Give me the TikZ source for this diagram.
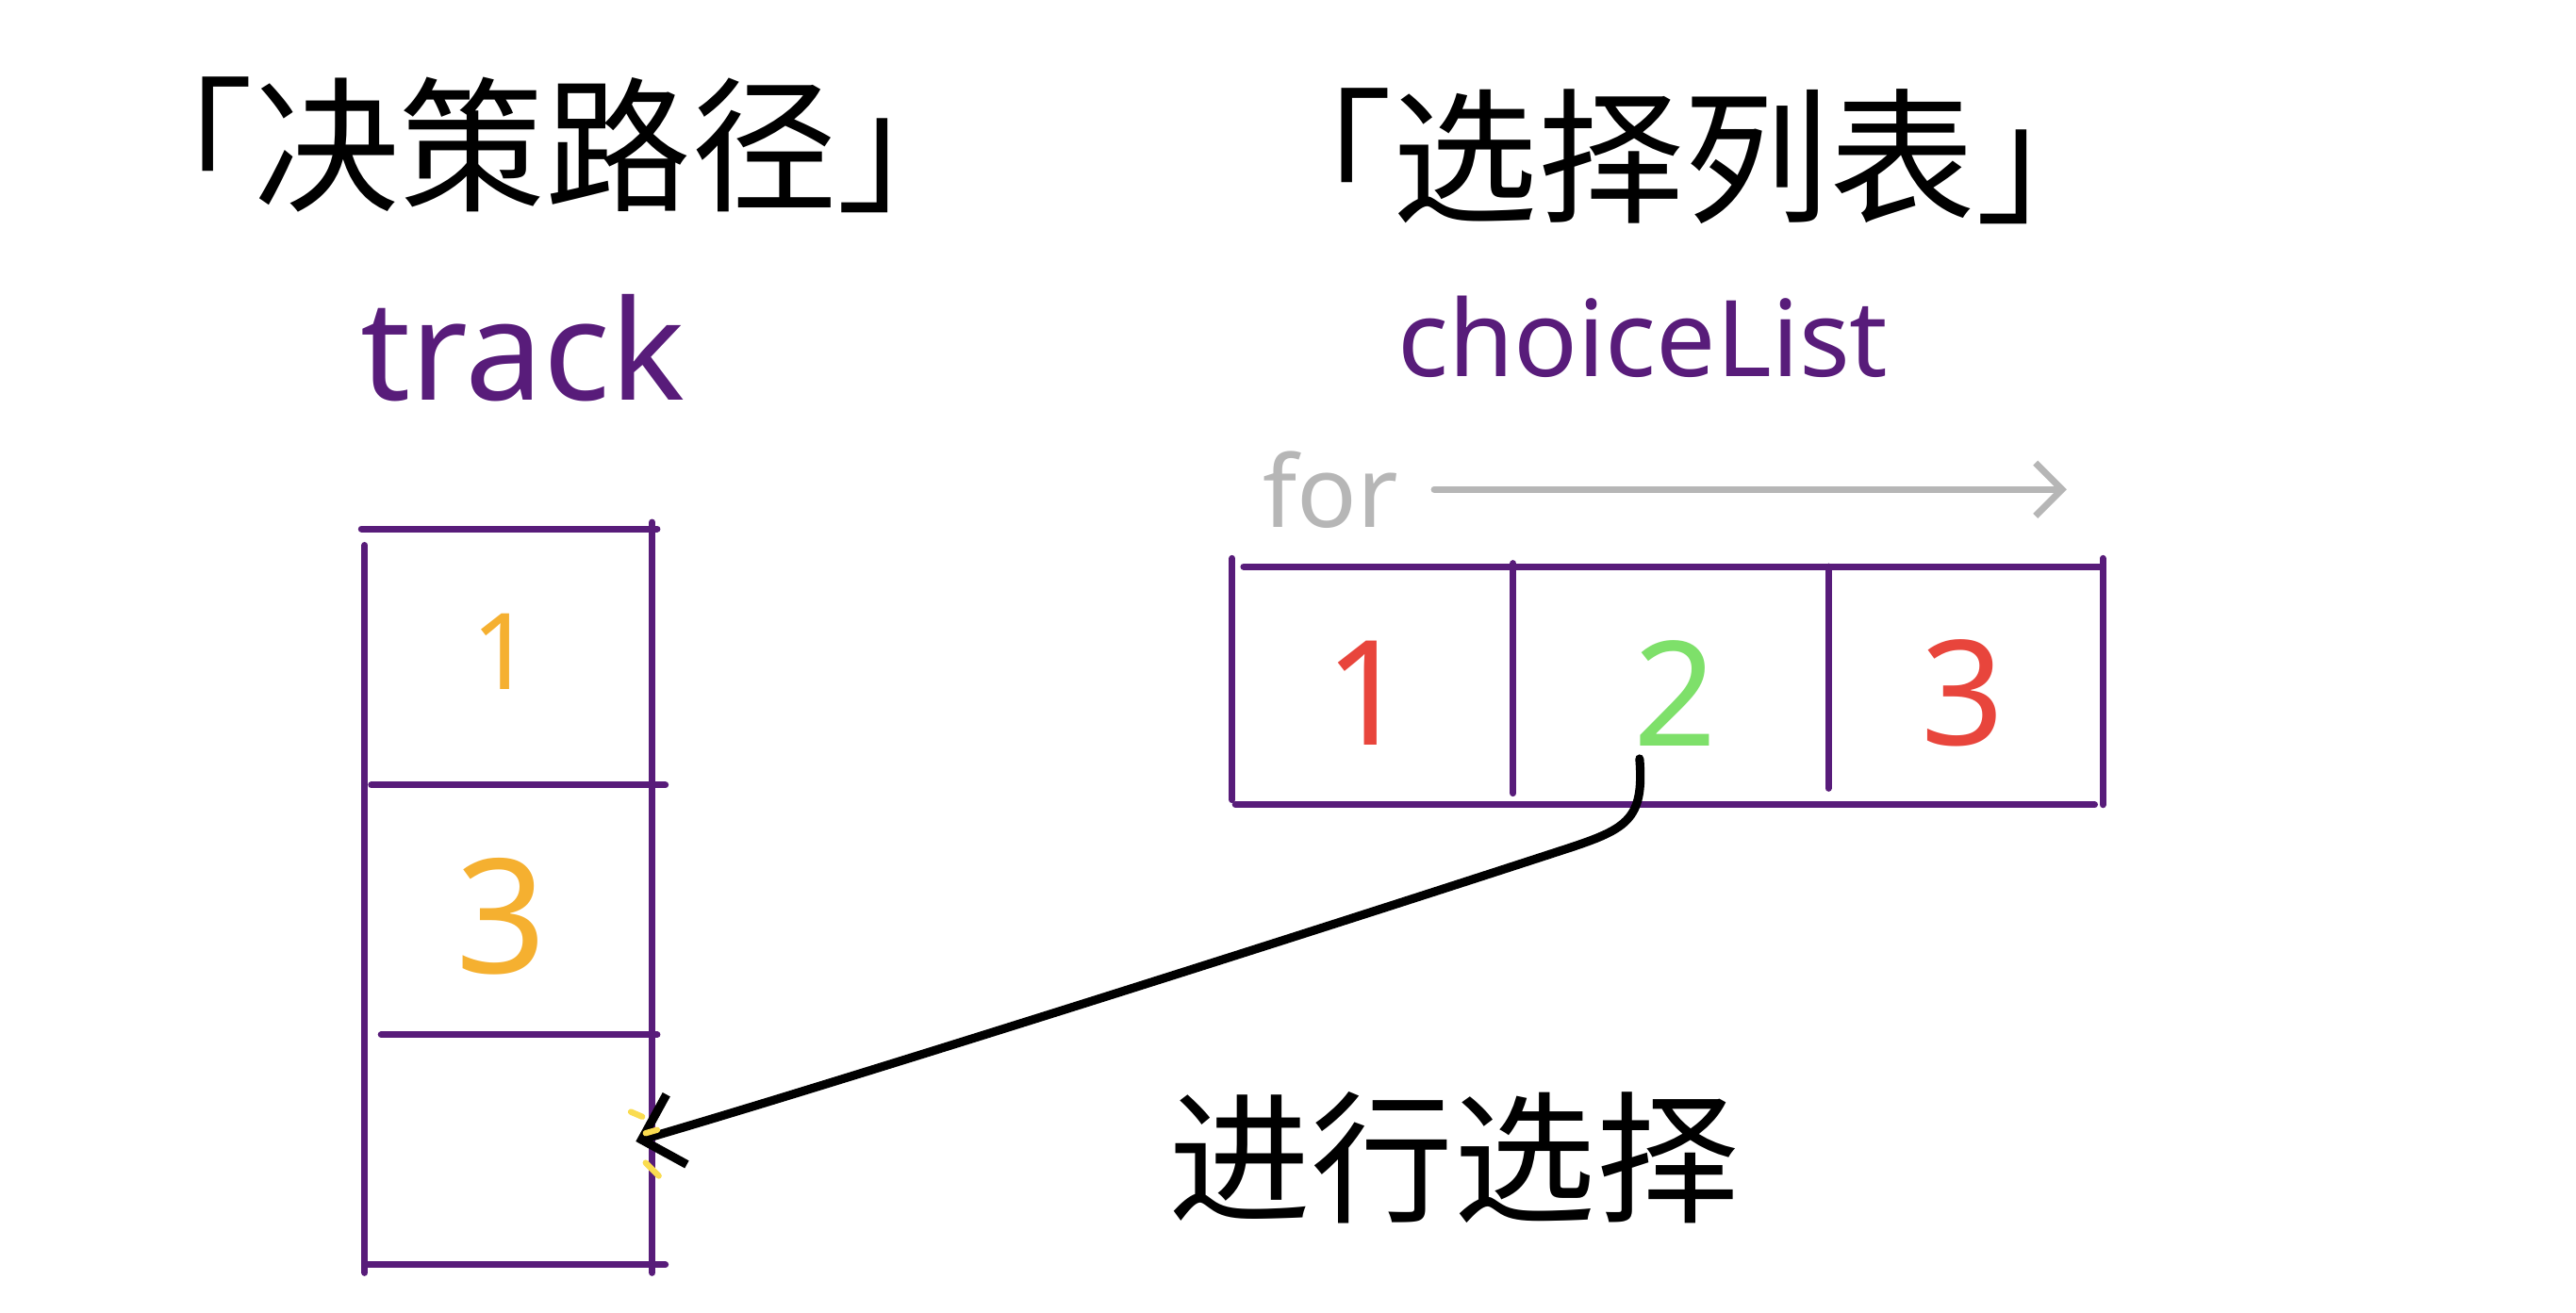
\documentclass[tikz,border=0pt]{standalone}
\usepackage{fontspec}
\setmainfont{Noto Sans}
\newfontfamily\cjk{Noto Sans CJK SC}
\usetikzlibrary{arrows.meta}
\definecolor{pur}{RGB}{88,28,122}
\definecolor{redd}{RGB}{232,69,60}
\definecolor{grn}{RGB}{126,224,106}
\definecolor{org}{RGB}{245,176,48}
\definecolor{gry}{RGB}{182,182,182}
\definecolor{yel}{RGB}{250,220,80}
\tikzset{
  grid/.style={draw=pur,line width=2pt,line cap=round},
  title/.style={font=\cjk\fontsize{44}{52}\selectfont,text=black,inner sep=0pt},
  label/.style={text=pur,inner sep=0pt},
  conn/.style={draw=black,line width=2.6pt,line cap=round,line join=round,-{Straight Barb[length=11pt,width=22pt,line width=2.6pt]}},
  forarrow/.style={draw=gry,line width=2pt,line cap=round,-{Straight Barb[length=8pt,width=16pt,line width=2pt]}},
  spark/.style={draw=yel,line width=1.8pt,line cap=round}
}
\begin{document}
\begin{tikzpicture}[x=0.017423cm,y=-0.017423cm]
\useasboundingbox[fill=white] (0,0) rectangle (1568,799);
% titles
\node[title] (t1) at (332,88) {「决策路径」};
\node[title] (t2) at (1025,95) {「选择列表」};
\node[label,font=\fontsize{42}{50}\selectfont] (track) at (318,212) {track};
\node[label,font=\fontsize{32}{40}\selectfont] (choice) at (1000,205) {choiceList};
% for arrow
\node[text=gry,inner sep=0pt,font=\fontsize{30}{36}\selectfont] (for) at (810,298) {for};
\coordinate (fa) at (873,298);
\coordinate (fb) at (1258,298);
\draw[forarrow] (fa) -- (fb);
% track column
\draw[grid] (220,322) -- (400,322);
\draw[grid] (222,332) -- (222,775);
\draw[grid] (397,318) -- (397,775);
\draw[grid] (226,478) -- (405,478);
\draw[grid] (232,630) -- (400,630);
\draw[grid] (222,770) -- (405,770);
\node[text=org,inner sep=0pt,font=\fontsize{32}{38}\selectfont] (tr1) at (306,397) {1};
\node[text=org,inner sep=0pt,font=\fontsize{48}{56}\selectfont] (tr3) at (305,558) {3};
% choice array
\draw[grid] (757,345) -- (1280,345);
\draw[grid] (752,490) -- (1275,490);
\draw[grid] (750,340) -- (750,487);
\draw[grid] (921,343) -- (921,483);
\draw[grid] (1113,345) -- (1113,480);
\draw[grid] (1280,340) -- (1280,490);
\node[text=redd,inner sep=0pt,font=\fontsize{44}{52}\selectfont] (c1) at (832,422) {1};
\node[text=grn,inner sep=0pt,font=\fontsize{44}{52}\selectfont] (c2) at (1020,422) {2};
\node[text=redd,inner sep=0pt,font=\fontsize{44}{52}\selectfont] (c3) at (1195,422) {3};
% selection arrow
\coordinate (a0) at (998,462);
\coordinate (a1) at (950,518);
\coordinate (slot) at (387,695);
\draw[conn] (a0) .. controls (1001,500) and (990,505) .. (a1)
            .. controls (760,580) and (500,662) .. (slot);
\draw[spark] (384,677) -- (391,680);
\draw[spark] (393,690) -- (400,688);
\draw[spark] (393,708) -- (401,716);
\node[title,font=\cjk\fontsize{43}{50}\selectfont] (sel) at (885,705) {进行选择};
\end{tikzpicture}
\end{document}
